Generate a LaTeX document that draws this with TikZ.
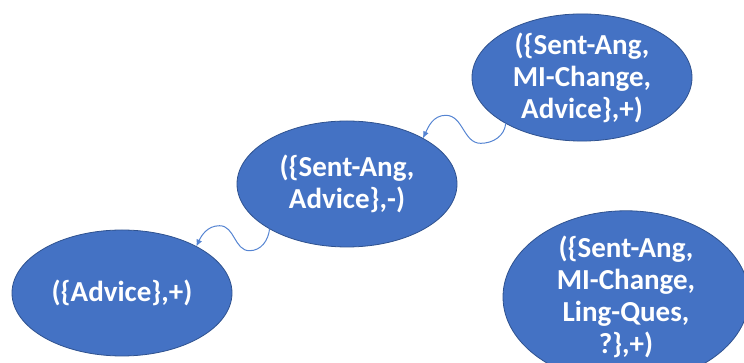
\documentclass[tikz,border=0pt]{standalone}
\usepackage{fontspec}
\setmainfont{Carlito}
\usetikzlibrary{shapes,arrows,arrows.meta,calc,positioning,backgrounds}
\definecolor{boxblue}{HTML}{4472C4}
\definecolor{boxedge}{HTML}{2F528F}
\definecolor{linkblue}{HTML}{5584D2}
\begin{document}
\begin{tikzpicture}[x=1pt,y=1pt,every node/.style={state},
  state/.style={ellipse,fill=boxblue,draw=boxedge,line width=0.8pt,outer sep=0pt,inner sep=0pt,
    minimum width=220pt,minimum height=126pt,text=white,align=center,
    font=\bfseries\fontsize{29}{32}\selectfont},
  link/.style={draw=linkblue,line width=1pt,-{Latex[length=7pt,width=6pt]}}]

        \useasboundingbox (0,0) rectangle (744,363);
        \clip (0,0) rectangle (744,363);

        \node (A) at (582,285.5) {(\{Sent-Ang,\\MI-Change,\\Advice\},+)};
        \node (B) at (347,179) {(\{Sent-Ang,\\Advice\},-)};
        \node (C) at (122,70) {(\{Advice\},+)};
        \node (D) [minimum width=246pt,minimum height=148pt] at (626,66)
          {(\{Sent-Ang,\\MI-Change,\\Ling-Ques,\\?\},+)};

        \draw[link] (A.211) to[out=-95,in=0] ++(-25,-20) to[out=180,in=0] ++(-35,28)
          to[out=180,in=65] (B.31);
        \draw[link] (B.210) to[out=-95,in=0] ++(-20,-22) to[out=180,in=0] ++(-30,25)
          to[out=180,in=65] (C.32);
      \end{tikzpicture}
\end{document}
